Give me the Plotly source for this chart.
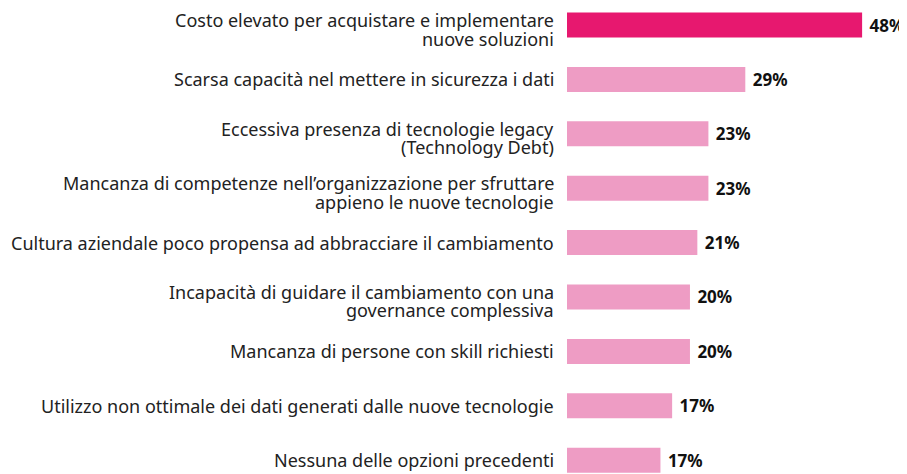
import plotly.graph_objects as go

categories = [
    "Costo elevato per acquistare e implementare<br>nuove soluzioni",
    "Scarsa capacità nel mettere in sicurezza i dati",
    "Eccessiva presenza di tecnologie legacy<br>(Technology Debt)",
    "Mancanza di competenze nell’organizzazione per sfruttare<br>appieno le nuove tecnologie",
    "Cultura aziendale poco propensa ad abbracciare il cambiamento",
    "Incapacità di guidare il cambiamento con una<br>governance complessiva",
    "Mancanza di persone con skill richiesti",
    "Utilizzo non ottimale dei dati generati dalle nuove tecnologie",
    "Nessuna delle opzioni precedenti",
]
values = [48, 29, 23, 23, 21.2, 20, 20, 17.1, 15.2]
value_labels = ["48%", "29%", "23%", "23%", "21%", "20%", "20%", "17%", "17%"]
colors = ["#E7186F"] + ["#EE9CC4"] * 8

FONT = "Noto Sans, Open Sans, sans-serif"

fig = go.Figure(go.Bar(
    x=values,
    y=categories,
    orientation="h",
    marker=dict(color=colors, line=dict(width=0)),
    width=0.46,
    text=["&nbsp;" + t for t in value_labels],
    textposition="outside",
    textfont=dict(family=FONT, size=17, color="#111111", weight="bold"),
    cliponaxis=False,
    hoverinfo="skip",
))

# category labels with tight line spacing
for cat in categories:
    lines = cat.split("<br>")
    if len(lines) == 1:
        shifts = [0]
    else:
        shifts = [5, -13.5]
    for line, s in zip(lines, shifts):
        fig.add_annotation(
            x=0, y=cat, xref="x", yref="y",
            text=line, showarrow=False,
            xanchor="right", yanchor="middle",
            xshift=-11, yshift=s,
            font=dict(family=FONT, size=18, color="#222222"),
        )

fig.update_layout(
    width=899,
    height=466,
    margin=dict(l=559, r=8, t=0, b=0),
    plot_bgcolor="white",
    paper_bgcolor="white",
    showlegend=False,
    font=dict(family=FONT, size=18, color="#222222"),
    xaxis=dict(range=[0, 54], visible=False, fixedrange=True),
    yaxis=dict(
        type="category",
        range=[8.254, -0.3125],
        showgrid=False,
        zeroline=False,
        showline=False,
        ticks="",
        showticklabels=False,
        automargin=False,
    ),
)

fig.write_html("out.html")
